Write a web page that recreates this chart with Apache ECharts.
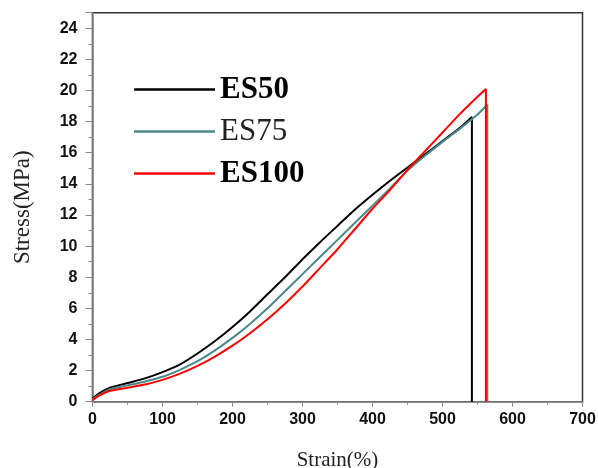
<!DOCTYPE html>
<html>
<head>
<meta charset="utf-8">
<script src="https://cdn.jsdelivr.net/npm/echarts@6/dist/echarts.min.js"></script>
<style>
  html, body { margin: 0; padding: 0; background: #fff; }
  #chart { width: 598px; height: 468px; }
</style>
</head>
<body>
<div id="chart"></div>
<script>
// strain (%) and stress (MPa); last point is the break drop
var strainES50 = [0, 10, 25, 50, 75, 100, 125, 150, 175, 200, 225, 250, 275, 300, 325, 350, 375, 400, 425, 450, 475, 500, 525, 542, 542];
var stressES50 = [0.2, 0.55, 0.9, 1.2, 1.5, 1.9, 2.4, 3.1, 3.9, 4.8, 5.8, 6.9, 8.0, 9.15, 10.25, 11.3, 12.35, 13.3, 14.2, 15.05, 15.9, 16.75, 17.6, 18.3, 0];

var strainES75 = [0, 10, 25, 50, 75, 100, 125, 150, 175, 200, 225, 250, 275, 300, 325, 350, 375, 400, 425, 450, 475, 500, 525, 550, 564, 564];
var stressES75 = [0.15, 0.45, 0.8, 1.05, 1.3, 1.6, 2.05, 2.6, 3.3, 4.1, 5.0, 6.0, 7.1, 8.2, 9.3, 10.4, 11.5, 12.6, 13.7, 14.85, 15.8, 16.7, 17.55, 18.45, 19.1, 0];

var strainES100 = [0, 10, 25, 50, 75, 100, 125, 150, 175, 200, 225, 250, 275, 300, 325, 350, 375, 400, 425, 450, 475, 500, 525, 550, 562, 562];
var stressES100 = [0.1, 0.4, 0.7, 0.9, 1.1, 1.4, 1.8, 2.3, 2.9, 3.6, 4.4, 5.3, 6.3, 7.4, 8.6, 9.8, 11.1, 12.4, 13.6, 14.9, 16.1, 17.3, 18.5, 19.6, 20.1, 0];

var seriesNames = ['ES50', 'ES75', 'ES100'];
var seriesColors = ['#000000', '#4a8888', '#ff0000'];

function pairs(xs, ys) {
	var out = [];
	for (var i = 0; i < xs.length; i++) {
		out.push([xs[i], ys[i]]);
	}
	return out;
}

var curves = [
	pairs(strainES50, stressES50),
	pairs(strainES75, stressES75),
	pairs(strainES100, stressES100)
];

var chart = echarts.init(document.getElementById('chart'), null, { renderer: 'canvas' });

chart.setOption({
	animation: false,
	backgroundColor: '#fff',
	grid: {
		left: 92.5,
		right: 15.5,
		top: 12.7,
		bottom: 66.3,
		outerBoundsMode: 'none',
		containLabel: false,
		show: true,
		borderColor: '#333',
		borderWidth: 1.5,
		backgroundColor: 'transparent'
	},
	legend: {
		orient: 'vertical',
		left: 129,
		top: 69,
		itemWidth: 81,
		itemHeight: 2.5,
		itemGap: 11,
		icon: 'rect',
		textStyle: {
			fontFamily: 'Liberation Serif',
			fontSize: 31,
			color: '#000',
			padding: [0, 0, 0, 0]
		},
		data: [
			{ name: 'ES50', textStyle: { fontWeight: 'bold' } },
			{ name: 'ES75', textStyle: { fontWeight: 'normal', color: '#222' } },
			{ name: 'ES100', textStyle: { fontWeight: 'bold' } }
		]
	},
	xAxis: {
		type: 'value',
		min: 0,
		max: 700,
		interval: 100,
		name: 'Strain(%)',
		nameLocation: 'middle',
		nameGap: 48,
		nameTextStyle: { fontFamily: 'Liberation Serif', fontSize: 21, color: '#222' },
		axisLine: { lineStyle: { color: '#888', width: 1.5 } },
		axisTick: { inside: false, length: 5, lineStyle: { color: '#888' } },
		minorTick: { show: true, splitNumber: 2, length: 3, lineStyle: { color: '#888' } },
		splitLine: { show: false },
		axisLabel: {
			margin: 10,
			fontFamily: 'Liberation Sans',
			fontWeight: 'bold',
			fontSize: 16,
			color: '#111'
		}
	},
	yAxis: {
		type: 'value',
		min: 0,
		max: 25,
		interval: 2,
		name: 'Stress(MPa)',
		nameLocation: 'middle',
		nameGap: 58,
		nameTextStyle: { fontFamily: 'Liberation Serif', fontSize: 23, color: '#222' },
		axisLine: { lineStyle: { color: '#888', width: 1.5 } },
		axisTick: { inside: false, length: 7, lineStyle: { color: '#888' } },
		minorTick: { show: true, splitNumber: 2, length: 4, lineStyle: { color: '#888' } },
		splitLine: { show: false },
		axisLabel: {
			showMaxLabel: false,
			margin: 15,
			fontFamily: 'Liberation Sans',
			fontWeight: 'bold',
			fontSize: 16,
			color: '#111'
		}
	},
	series: seriesNames.map(function (name, i) {
		return {
			name: name,
			type: 'line',
			showSymbol: false,
			symbol: 'none',
			smooth: 0.2,
			color: seriesColors[i],
			lineStyle: { width: 2, color: seriesColors[i] },
			data: curves[i]
		};
	})
});
</script>
</body>
</html>
